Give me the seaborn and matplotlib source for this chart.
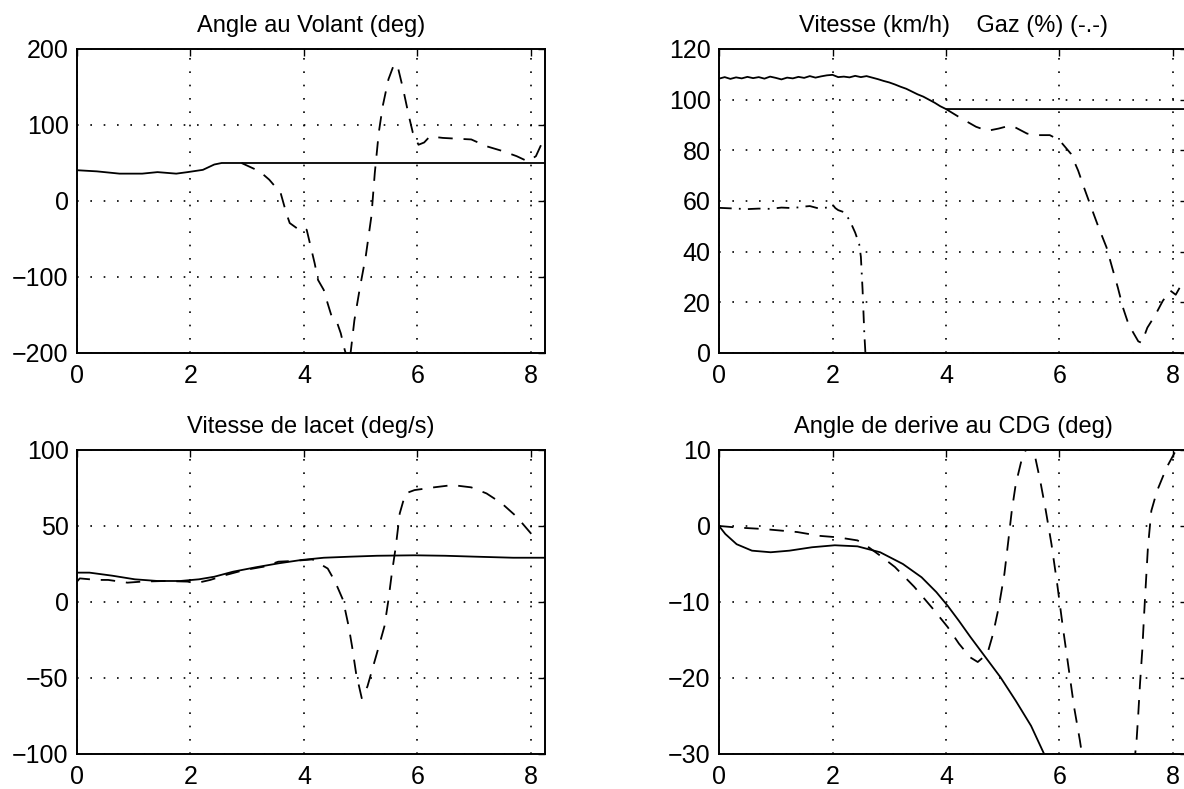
import seaborn as sns
import pandas as pd
import matplotlib.pyplot as plt

# --- Angle au Volant (deg) ---
volant_t = [0.0, 0.35, 0.75, 1.15, 1.42, 1.75, 1.95, 2.22, 2.42, 2.55, 8.25]
volant = [40.5, 39.0, 36.0, 36.0, 38.0, 36.0, 38.0, 41.0, 48.0, 50.0, 50.0]
volant2_t = [2.9, 3.22, 3.39, 3.59, 3.69, 3.75, 3.88, 3.95, 4.05, 4.12, 4.19, 4.25,
             4.35, 4.42, 4.49, 4.59, 4.65, 4.72, 4.8, 4.89, 4.99, 5.09, 5.19, 5.25,
             5.32, 5.39, 5.49, 5.59, 5.65, 5.75, 5.85, 5.92, 6.02, 6.12, 6.22, 6.45,
             6.69, 6.95, 7.22, 7.49, 7.75, 7.95, 8.09, 8.25]
volant2 = [50, 39, 28, 10.6, -16, -29, -36, -33, -38, -60, -82, -104,
           -117, -135, -152, -161, -174, -196, -215, -157, -113, -73, -20, 37,
           90, 125, 160, 180, 178, 147, 112, 90, 74, 77, 85, 83,
           82, 81, 72, 66, 59, 52, 59, 85]

# --- Vitesse (km/h) / Gaz (%) ---
vit_t = [0.0, 0.1, 0.2, 0.3, 0.4, 0.5, 0.6, 0.7, 0.8, 0.9, 1.0, 1.1, 1.2, 1.3,
         1.4, 1.5, 1.6, 1.7, 1.8, 1.9, 2.0, 2.1, 2.2, 2.3, 2.4, 2.5, 2.6, 2.7,
         2.8, 2.9, 3.0, 3.1, 3.2, 3.3, 3.4, 3.5, 3.6, 3.7, 3.8, 3.9, 4.0, 8.25]
vit = [108.3, 108.9, 108.2, 108.8, 108.4, 109.0, 108.5, 108.9, 108.3, 109.1,
       108.6, 108.0, 108.7, 108.4, 109.0, 108.6, 109.3, 108.7, 109.2, 109.6,
       109.8, 108.9, 109.1, 108.8, 109.4, 108.9, 109.3, 108.7, 108.1, 107.4,
       106.8, 106.0, 105.1, 104.3, 103.2, 102.1, 101.2, 100.0, 98.8, 97.4,
       96.3, 96.3]
vit2_t = [4.0, 4.27, 4.53, 4.73, 4.93, 5.1, 5.2, 5.43, 5.63, 5.83, 6.0, 6.2,
          6.33, 6.43, 6.56, 6.69, 6.83, 6.93, 7.03, 7.12, 7.22, 7.39, 7.45,
          7.55, 7.69, 7.82, 7.95, 8.05, 8.2]
vit2 = [96.3, 92.6, 89.3, 87.7, 88.6, 89.6, 89.3, 86.6, 86.0, 86.0, 84.0, 78.7,
        72.0, 65.5, 57.5, 49.6, 41.7, 33.7, 25.8, 17.9, 11.2, 4.6, 4.0,
        10.0, 15.0, 20.5, 24.7, 23.0, 29.0]
gaz_t = [0.0, 0.3, 0.5, 0.7, 0.9, 1.1, 1.3, 1.5, 1.6, 1.75, 1.9, 2.0, 2.05,
         2.1, 2.2, 2.3, 2.4, 2.47, 2.5, 2.53, 2.56, 2.58]
gaz = [57.3, 57.0, 56.8, 57.0, 56.9, 57.4, 57.2, 57.8, 58.0, 57.1, 57.4, 58.6,
       57.2, 56.4, 55.6, 52.5, 47.5, 43.0, 38.0, 25.0, 8.0, 0.0]

# --- Vitesse de lacet (deg/s) ---
lacet_t = [0.0, 0.22, 0.62, 1.02, 1.42, 1.82, 2.15, 2.42, 2.75, 3.15, 3.55,
           3.95, 4.35, 4.82, 5.29, 5.95, 6.49, 7.02, 7.69, 8.25]
lacet = [19.3, 19.3, 17.3, 14.9, 13.8, 13.8, 14.9, 16.6, 19.9, 22.8, 25.4,
         27.6, 29.1, 29.8, 30.4, 30.7, 30.4, 29.8, 29.1, 29.1]
lacet2_t = [0.0, 0.05, 0.35, 0.55, 0.89, 1.15, 1.55, 1.95, 2.09, 2.35, 2.62,
            2.95, 3.29, 3.55, 3.82, 4.15, 4.42, 4.55, 4.69, 4.79, 4.85, 4.92,
            5.02, 5.12, 5.22, 5.32, 5.42, 5.49, 5.55, 5.62, 5.69, 5.79, 5.95,
            6.29, 6.62, 6.95, 7.22, 7.49, 7.75, 8.05]
lacet2 = [13.4, 15.5, 14.5, 14.5, 12.7, 13.4, 13.8, 13.4, 12.3, 14.5, 17.7,
          21.0, 23.2, 26.5, 27.0, 28.0, 22.0, 13.4, 1.3, -16.2, -29.4, -46.9,
          -63.3, -55.6, -42.5, -29.4, -16.0, 1.3, 18.8, 36.4, 58.3, 71.4, 73.6,
          75.4, 76.9, 75.4, 71.4, 64.8, 56.1, 43.0]

# --- Angle de derive au CDG (deg) ---
derive_t = [0.0, 0.11, 0.31, 0.58, 0.91, 1.24, 1.64, 2.04, 2.44, 2.84, 3.24,
            3.57, 3.83, 4.03, 4.23, 4.43, 4.7, 4.96, 5.23, 5.5, 5.73, 5.9]
derive = [0.0, -1.05, -2.4, -3.25, -3.46, -3.25, -2.8, -2.54, -2.68, -3.46,
          -5.0, -6.75, -8.7, -10.5, -12.5, -14.6, -17.3, -19.9, -23.0, -26.3,
          -30.0, -32.5]
derive2_t = [0.0, 0.31, 0.78, 1.38, 1.77, 2.1, 2.44, 2.6, 2.84, 3.1, 3.44,
             3.77, 4.03, 4.23, 4.43, 4.56, 4.73, 4.83, 4.93, 5.03, 5.1, 5.16,
             5.23, 5.33, 5.43, 5.49, 5.56, 5.66, 5.76, 5.86, 5.96, 6.06, 6.16,
             6.26, 6.36, 6.6, 6.9, 7.2, 7.36, 7.39, 7.42, 7.46, 7.49, 7.52,
             7.56, 7.62, 7.72, 7.89, 8.05, 8.25]
derive2 = [0.0, -0.2, -0.4, -0.8, -1.3, -1.5, -1.9, -2.6, -3.9, -5.4, -8.0,
           -10.9, -13.3, -15.5, -17.3, -17.9, -16.8, -14.2, -10.7, -6.3, -1.9,
           2.0, 5.5, 8.6, 10.4, 10.8, 9.5, 6.0, 2.0, -2.4, -7.6, -13.3, -18.6,
           -23.9, -28.2, -40.0, -48.0, -40.0, -28.2, -24.7, -20.8, -16.4, -12.0,
           -8.0, -2.8, 2.0, 4.6, 7.7, 9.9, 14.0]

DASHED = (0, (8, 6))
DASHDOT = (0, (7, 4, 1, 4))


def draw(ax, t, y, style="-"):
    df = pd.DataFrame({"t": t, "y": y})
    sns.lineplot(data=df, x="t", y="y", ax=ax, color="black", linewidth=1.3,
                 linestyle=style, errorbar=None, sort=False)


def style_axes(ax, title, ylim, yticks):
    ax.set_xlim(0, 8.25)
    ax.set_ylim(*ylim)
    ax.set_xticks([0, 2, 4, 6, 8])
    ax.set_yticks(yticks)
    ax.set_xlabel("")
    ax.set_ylabel("")
    ax.set_title(title, fontsize=17, pad=12, color="black")
    ax.grid(True, color="black", linestyle=(0, (1, 7)), linewidth=1.2)
    ax.tick_params(direction="in", top=True, right=True, length=5, width=1,
                   labelsize=18, colors="black")
    ax.tick_params(axis="x", pad=8)
    ax.tick_params(axis="y", pad=6)
    for sp in ax.spines.values():
        sp.set_linewidth(1.4)
        sp.set_color("black")


def main():
    sns.set_theme(style="white")
    plt.rcParams["font.family"] = ["Liberation Sans", "DejaVu Sans"]
    plt.rcParams["text.color"] = "black"

    fig = plt.figure(figsize=(11.84, 7.89), dpi=100)
    w, h = 0.3953, 0.3853
    ax1 = fig.add_axes([0.0650, 0.5526, w, h])
    ax2 = fig.add_axes([0.6073, 0.5526, w, h])
    ax3 = fig.add_axes([0.0650, 0.0444, w, h])
    ax4 = fig.add_axes([0.6073, 0.0444, w, h])

    draw(ax1, volant_t, volant)
    draw(ax1, volant2_t, volant2, DASHED)
    style_axes(ax1, "Angle au Volant (deg)", (-200, 200), [-200, -100, 0, 100, 200])

    draw(ax2, vit_t, vit)
    draw(ax2, vit2_t, vit2, DASHED)
    draw(ax2, gaz_t, gaz, DASHDOT)
    style_axes(ax2, "Vitesse (km/h)    Gaz (%) (-.-)", (0, 120),
               [0, 20, 40, 60, 80, 100, 120])

    draw(ax3, lacet_t, lacet)
    draw(ax3, lacet2_t, lacet2, DASHED)
    style_axes(ax3, "Vitesse de lacet (deg/s)", (-100, 100), [-100, -50, 0, 50, 100])

    draw(ax4, derive_t, derive)
    draw(ax4, derive2_t, derive2, DASHED)
    style_axes(ax4, "Angle de derive au CDG (deg)", (-30, 10), [-30, -20, -10, 0, 10])

    fig.savefig("out.png", dpi=100)


if __name__ == "__main__":
    main()
